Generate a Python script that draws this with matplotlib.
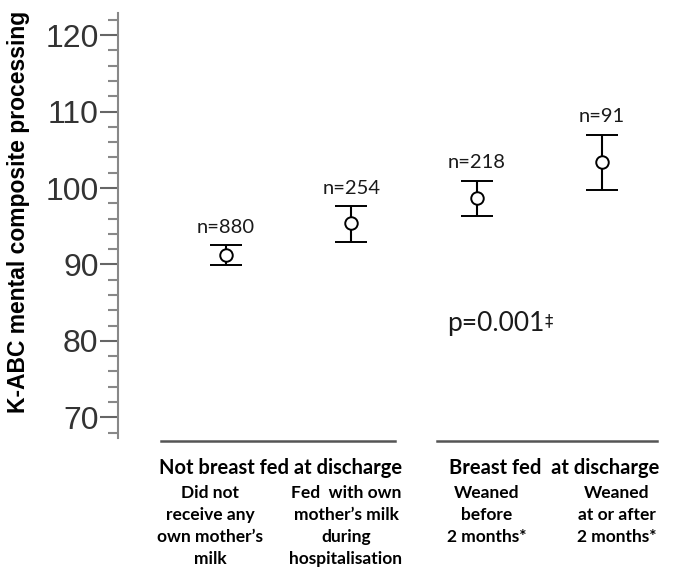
import numpy as np
import matplotlib
matplotlib.use('Agg')
import matplotlib.pyplot as plt
from matplotlib.lines import Line2D
from matplotlib.ticker import MultipleLocator

# data
groups = ['Did not\nreceive any\nown mother\u2019s\nmilk',
          'Fed  with own\nmother\u2019s milk\nduring\nhospitalisation',
          'Weaned\nbefore\n2 months*',
          'Weaned\nat or after\n2 months*']
n_labels = ['n=880', 'n=254', 'n=218', 'n=91']
means = [91.2, 95.4, 98.7, 103.4]
upper = [92.5, 97.6, 100.9, 107.0]
lower = [89.9, 93.0, 96.3, 99.7]
headers = ['Not breast fed at discharge', 'Breast fed  at discharge']
p_text = 'p=0.001'

W, H = 673, 568
fig = plt.figure(figsize=(W / 100, H / 100), dpi=100)
ax = fig.add_axes([118 / W, 1 - 438 / H, 1 - 118 / W, (438 - 13) / H])

x = np.arange(1, len(means) + 1)
m = np.array(means)
yerr = [m - np.array(lower), np.array(upper) - m]
ax.errorbar(x, m, yerr=yerr, fmt='o', color='black', ecolor='black',
            elinewidth=1.5, capsize=11.5, capthick=1.8,
            markersize=9, markerfacecolor='white', markeredgecolor='black',
            markeredgewidth=1.4, zorder=3)

for xi, up, lab in zip(x, upper, n_labels):
    ax.annotate(lab, (xi, up), xytext=(0, 7), textcoords='offset points',
                ha='center', va='bottom', fontsize=14.5, family='Lato',
                color='#1a1a1a')

t = ax.text(2.763, 82.3, p_text, ha='left', va='center', fontsize=19,
            family='Lato', color='#1a1a1a')
ax.annotate('\u2021', xy=(1, 0.95), xycoords=t, ha='left', va='top',
            fontsize=12, family='DejaVu Sans', color='#1a1a1a')

ax.set_xlim(0.138, 4.567)
ax.set_ylim(67.3, 122.9)
ax.yaxis.set_major_locator(MultipleLocator(10))
ax.yaxis.set_minor_locator(MultipleLocator(2))
ax.set_yticks([70, 80, 90, 100, 110, 120])
ax.tick_params(axis='y', which='major', length=13, width=1.5, color='#666666',
               labelsize=23, labelcolor='#333333', pad=1)
ax.tick_params(axis='y', which='minor', length=7, width=1.5, color='#888888')
for lbl in ax.get_yticklabels():
    lbl.set_family('Liberation Sans')
ax.set_xticks([])
for s in ['top', 'right', 'bottom']:
    ax.spines[s].set_visible(False)
ax.spines['left'].set_color('#888888')
ax.spines['left'].set_linewidth(1.5)

ax.set_ylabel('K-ABC mental composite processing', fontsize=16.5,
              fontweight='bold', family='Liberation Sans')
ax.yaxis.set_label_coords(-(118 - 30) / (W - 118), (438 - 212) / (438 - 13))

# group lines and labels below the axis
for (x0, x1) in [(161, 395), (437, 657)]:
    fig.add_artist(Line2D([x0 / W, x1 / W], [1 - 441 / H] * 2,
                          color='#555555', linewidth=1.8))
for cx, txt in zip([281, 554], headers):
    fig.text(cx / W, 1 - 468 / H, txt, ha='center', va='center',
             fontsize=14.5, fontweight='bold', family='Lato')
for cx, txt in zip([210, 346, 487, 617], groups):
    fig.text(cx / W, 1 - 485 / H, txt, ha='center', va='top',
             fontsize=12.5, fontweight='bold', family='Lato',
             linespacing=1.45)

fig.savefig('out.png', dpi=100)
